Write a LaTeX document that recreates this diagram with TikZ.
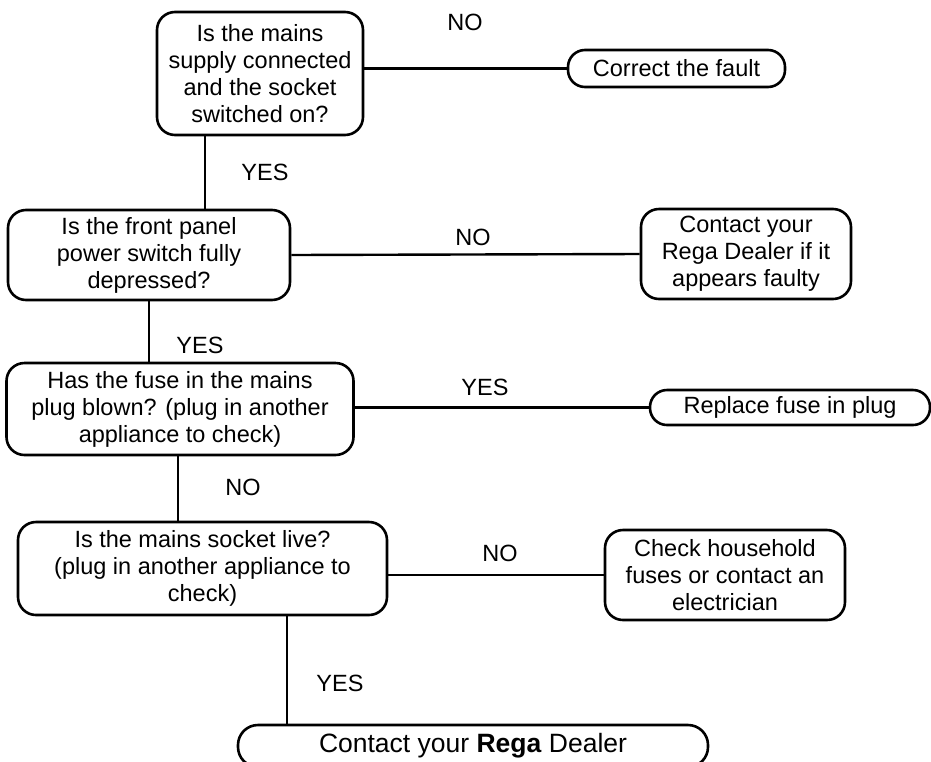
\documentclass[tikz,border=0pt]{standalone}
\usepackage{fontspec}
\setmainfont{Liberation Sans}
\begin{document}
\begin{tikzpicture}[x=1pt,y=-1pt,font=\fontsize{23.5}{27}\selectfont,
  ask/.style={draw,line width=2.6pt,rounded corners=18pt,align=center,inner sep=0pt},
  stop/.style={draw,line width=2.6pt,rounded corners=17pt,align=center,inner sep=0pt},
  link/.style={line width=2.4pt}]
\useasboundingbox (0,0) rectangle (931,761);
% questions
\node [ask,minimum width=206pt,minimum height=123pt] (q1) at (260,73.5) {Is the mains\\supply connected\\and the socket\\switched on?};
\node [ask,minimum width=282pt,minimum height=90pt] (q2) at (149,255) {Is the front panel\\power switch fully\\depressed?};
\node [ask,minimum width=347pt,minimum height=92pt] (q3) at (180,409) {Has the fuse in the mains\\plug blown? (plug in another\\appliance to check)};
\node [ask,minimum width=369pt,minimum height=93pt] (q4) at (202.5,568.5) {Is the mains socket live?\\(plug in another appliance to\\check)};
% answers
\node [stop,minimum width=217pt,minimum height=37pt] (fault) at (676.5,68.5) {Correct the fault};
\node [ask,minimum width=210pt,minimum height=90pt] (dealer) at (746,254) {Contact your\\Rega Dealer if it\\appears faulty};
\node [stop,minimum width=280pt,minimum height=35pt] (fuse) at (790,407.5) {Replace fuse in plug};
\node [ask,minimum width=240pt,minimum height=90pt] (house) at (725,575) {Check household\\fuses or contact an\\electrician};
\node [stop,minimum width=470pt,minimum height=42pt,rounded corners=20pt,font=\fontsize{26.5}{30}\selectfont] (rega) at (473,746) {Contact your \textbf{Rega} Dealer};
% links
\draw [link] (fault.west -| q1.east) -- (fault.west);
\draw [link] ([xshift=-55pt]q1.south) -- ([xshift=-55pt]q1.south |- q2.north);
\draw [link] (q2.east) -- (dealer.west);
\draw [link] (q2.south) -- (q2.south |- q3.north);
\draw [link] (fuse.west -| q3.east) -- (fuse.west);
\draw [link] ([xshift=-2pt]q3.south) -- ([xshift=-2pt]q3.south |- q4.north);
\draw [link] (house.west -| q4.east) -- (house.west);
\draw [link] ([xshift=84.5pt]q4.south) -- ([xshift=84.5pt]q4.south |- rega.north);
% answers on the links
\node (no1) at (465,22) {NO};
\node (yes1) at (265,172) {YES};
\node (no2) at (473,237) {NO};
\node (yes2) at (200,345) {YES};
\node (yes3) at (485,387) {YES};
\node (no3) at (243,487) {NO};
\node (no4) at (500,553) {NO};
\node (yes4) at (340,683) {YES};
\end{tikzpicture}
\end{document}
